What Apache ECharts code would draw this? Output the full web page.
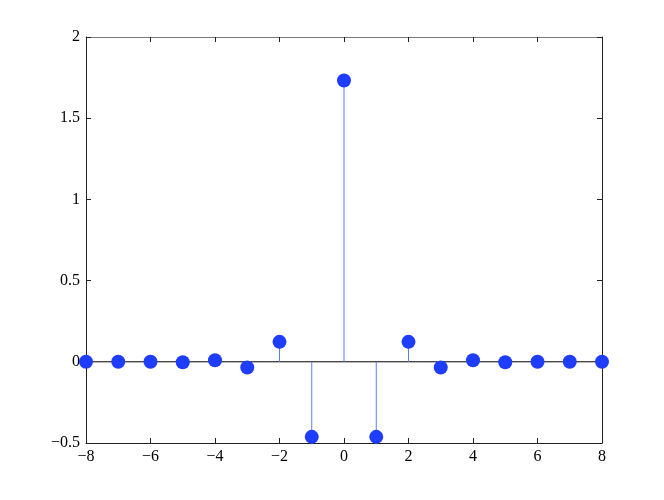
<!DOCTYPE html>
<html><head><meta charset="utf-8">
<script src="https://cdn.jsdelivr.net/npm/echarts@6/dist/echarts.min.js"></script>
<style>html,body{margin:0;padding:0;background:#fff}#c{width:664px;height:500px}</style>
</head><body><div id="c"></div>
<script>
const xs = [-8,-7,-6,-5,-4,-3,-2,-1,0,1,2,3,4,5,6,7,8];
const ys = [0,0,0,-0.003,0.01,-0.035,0.123,-0.462,1.732,-0.462,0.123,-0.035,0.01,-0.003,0,0,0];
const xTicks = [-8,-6,-4,-2,0,2,4,6,8];
const yTicks = [-0.5,0,0.5,1,1.5,2];
const pts = xs.map((x,i)=>[x,ys[i]]);
const fmt = v => String(v).replace('-', '\u2212');
const font = {fontFamily:'Liberation Serif', fontSize:16, color:'#000'};
const chart = echarts.init(document.getElementById('c'), null, {renderer:'canvas'});
chart.setOption({
  animation:false,
  grid:{left:86, right:62, top:37, bottom:57, containLabel:false},
  xAxis:[
    {type:'value', min:-8, max:8, interval:2, position:'bottom',
     axisLine:{onZero:false, lineStyle:{color:'#222', width:1}},
     axisTick:{inside:true, length:5, lineStyle:{color:'#222'}},
     axisLabel:Object.assign({formatter:fmt, margin:6}, font), splitLine:{show:false}},
    {type:'value', min:-8, max:8, interval:2, position:'top',
     axisLine:{onZero:false, lineStyle:{color:'#777', width:1}},
     axisTick:{inside:true, length:5, lineStyle:{color:'#222'}},
     axisLabel:{show:false}, splitLine:{show:false}}
  ],
  yAxis:[
    {type:'value', min:-0.5, max:2, interval:0.5, position:'left',
     axisLine:{onZero:false, show:true, lineStyle:{color:'#222', width:1}},
     axisTick:{show:true, inside:true, length:5, lineStyle:{color:'#222'}},
     axisLabel:Object.assign({formatter:fmt, margin:6}, font), splitLine:{show:false}},
    {type:'value', min:-0.5, max:2, interval:0.5, position:'right',
     axisLine:{onZero:false, show:true, lineStyle:{color:'#222', width:1}},
     axisTick:{show:true, inside:true, length:5, lineStyle:{color:'#222'}},
     axisLabel:{show:false}, splitLine:{show:false}}
  ],
  series:[
    {type:'line', data:[[-8,0],[8,0]], symbol:'none', lineStyle:{color:'#000', width:1}, z:1},
    {type:'custom', data:pts, z:2,
     renderItem:(params, api)=>{
       const p0 = api.coord([api.value(0), 0]);
       const p1 = api.coord([api.value(0), api.value(1)]);
       return {type:'line', shape:{x1:p0[0], y1:p0[1], x2:p1[0], y2:p1[1]},
               style:{stroke:'#5a7bff', lineWidth:1}};
     }},
    {type:'scatter', data:pts, symbol:'circle', symbolSize:14, z:3,
     itemStyle:{color:'#1f3dff', opacity:1}}
  ]
});
</script></body></html>
